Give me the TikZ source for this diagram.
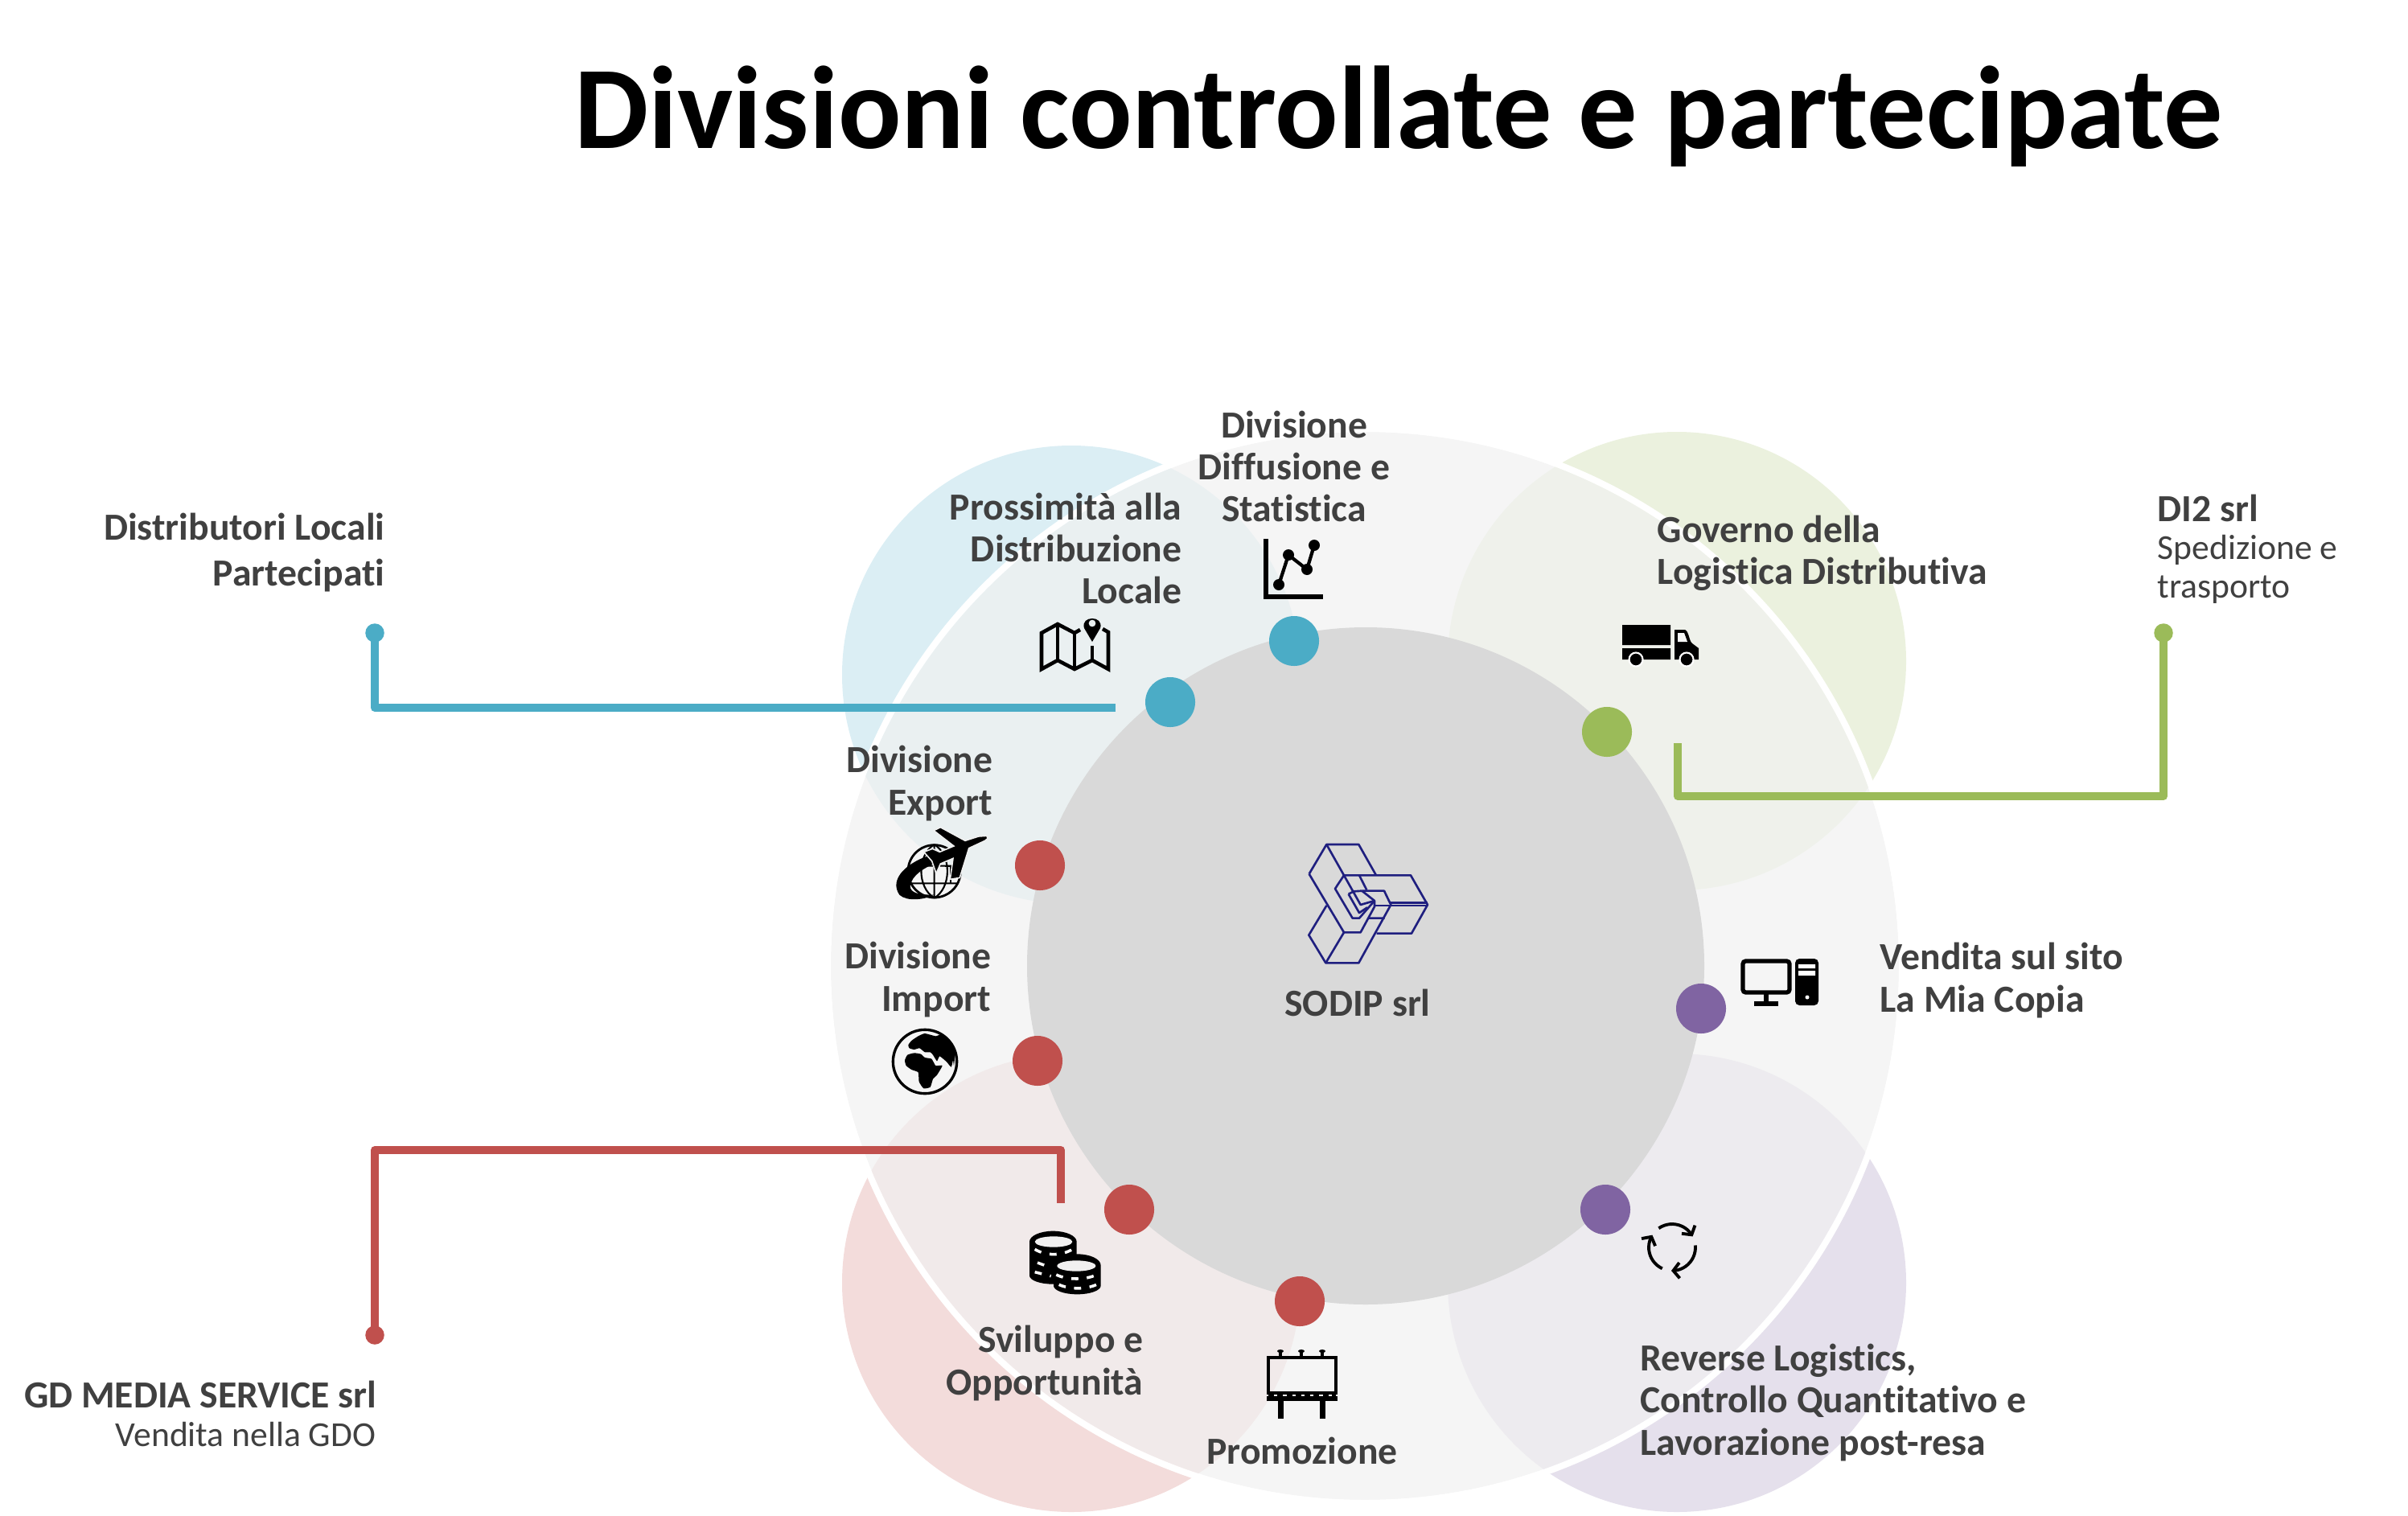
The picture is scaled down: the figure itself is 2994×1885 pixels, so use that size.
\documentclass[tikz,border=0pt]{standalone}
\usepackage{fontspec}
\setmainfont{Carlito}[Ligatures=NoCommon]
\usepackage{tikz}
\usetikzlibrary{arrows.meta}
\definecolor{tealdot}{HTML}{4BACC6}
\definecolor{greendot}{HTML}{9BBB59}
\definecolor{reddot}{HTML}{C0504D}
\definecolor{purpledot}{HTML}{8064A2}
\definecolor{labeltext}{HTML}{404040}
\definecolor{logoblue}{HTML}{1F1F7F}
\tikzset{
  dotnode/.style={circle,inner sep=0pt,minimum size=.62cm},
  enddot/.style={circle,inner sep=0pt,minimum size=.235cm},
  wire/.style={line width=.1cm,line join=round},
  lab/.style={inner sep=0pt,text=labeltext,font=\fontsize{13.55}{14.8}\selectfont\bfseries},
  sublab/.style={inner sep=0pt,text=labeltext,font=\fontsize{12.4}{13.6}\selectfont},
  icon/.style={black,line width=.95pt,line join=miter},
  cycarrow/.style={line width=1.1pt,-{Straight Barb[length=2.2pt,width=5.5pt]}},
}
\begin{document}
\begin{tikzpicture}[x=.01cm,y=-.01cm,>=latex]
\useasboundingbox (0,0) rectangle (2994,1885);
% petals
\fill[tealdot!20] (1332,839) circle (285);
\fill[greendot!20] (2085,822) circle (285);
\fill[reddot!20] (1332,1595) circle (285);
\fill[purpledot!20] (2085,1595) circle (285);
% rings
\path[fill=black!5.5,fill opacity=.7] (1697,1201) circle (664);
\draw[white,line width=.08cm] (1697,1201) circle (668);
\fill[black!15] (1698,1201) circle (421);
\node[font=\fontsize{41.6}{48}\selectfont\bfseries,inner sep=0pt,anchor=base] (title) at (1739,185) {Divisioni controllate e partecipate};
% connectors
\node[enddot,fill=tealdot] (endteal) at (466,787) {};
\node[enddot,fill=greendot] (endgreen) at (2690,787) {};
\node[enddot,fill=reddot] (endred) at (466,1660) {};
\coordinate (fromteal) at (1387,880);
\coordinate (fromgreen) at (2086,924);
\coordinate (fromred) at (1319,1496);
\draw[wire,tealdot] (endteal.center) |- (fromteal);
\draw[wire,greendot] (endgreen.center) |- (fromgreen |- 0,990) -- (fromgreen);
\draw[wire,reddot] (endred.center) |- (fromred |- 0,1430) -- (fromred);
\foreach \nm/\x/\y/\col in {exp/1293/1076/reddot,imp/1290/1319/reddot,svil/1404/1504/reddot,prom/1616/1618/reddot,
  pross/1455/873/tealdot,diff/1609/797/tealdot,gov/1998/910/greendot,sito/2115/1254/purpledot,rev/1996/1504/purpledot} {
  \node[dotnode,fill=\col] (dot\nm) at (\x,\y) {};
}
% labels
\node[lab,align=center] (lbdiff) at (1609,580) {Divisione\\Diffusione e\\Statistica};
\node[lab,align=right,anchor=east] (lbpross) at (1470,682) {Prossimità alla\\Distribuzione\\Locale};
\node[lab,align=right,anchor=east,font=\fontsize{13.55}{16.2}\selectfont\bfseries] (lblocal) at (479,687) {Distributori Locali\\Partecipati};
\node[lab,align=left,anchor=west] (lbgov) at (2060,688) {Governo della\\Logistica Distributiva};
\node[lab,anchor=west] (lbdi) at (2682,632) {DI2 srl};
\node[sublab,align=left,anchor=west] (lbdisub) at (2682,708) {Spedizione e\\trasporto};
\node[lab,align=right,anchor=east] (lbexp) at (1235,974) {Divisione\\Export};
\node[lab,align=right,anchor=east] (lbimp) at (1233,1218) {Divisione\\Import};
\node[lab] (lbsodip) at (1688,1247) {SODIP srl};
\node[lab,align=left,anchor=west] (lbsito) at (2337,1219) {Vendita sul sito\\La Mia Copia};
\node[lab,align=right,anchor=east] (lbsvil) at (1422,1695) {Sviluppo e\\Opportunità};
\node[lab] (lbprom) at (1619,1804) {Promozione};
\node[lab,align=left,anchor=west] (lbrev) at (2039,1744) {Reverse Logistics,\\Controllo Quantitativo e\\Lavorazione post-resa};
\node[lab,anchor=east] (lbgd) at (469,1734) {GD MEDIA SERVICE srl};
\node[sublab,anchor=east] (lbgdsub) at (468,1783) {Vendita nella GDO};
% logo
\begin{scope}[shift={(1610,1040)},scale=.3333,logoblue,line width=.75pt,line join=round]
\draw (53,140) -- (118,30) -- (238,30) -- (303,145);
\draw (118,30) -- (183,145) -- (432,145) -- (495,255) -- (435,362) -- (305,362);
\draw (53,140) -- (183,358) -- (245,358) -- (297,262) -- (297,240) -- (250,203);
\draw (118,258) -- (52,368) -- (115,472) -- (238,472) -- (358,255) -- (333,203) -- (250,203);
\draw (115,472) -- (183,358);
\draw (183,145) -- (150,195) -- (215,305) -- (240,305) -- (297,240);
\draw (297,258) -- (495,258) (358,248) -- (495,248);
\draw (240,145) -- (268,200) (183,145) -- (245,255) -- (297,240);
\draw (200,215) -- (220,205) -- (250,203) (200,215) -- (240,285) -- (270,265) (275,305) -- (335,305);
\end{scope}
% chart
\begin{scope}[icon]
\draw[line width=1.7pt] (1574,670) -- (1574,742) -- (1645,742);
\draw[line width=1.2pt] (1590,727) -- (1602,690) -- (1625,708) -- (1634,678);
\foreach \x/\y in {1590/727,1602/690,1625/708,1634/678} { \fill (\x,\y) circle (7); }
% map
\draw[line width=1.3pt] (1343,783) -- (1336,787) -- (1315,776) -- (1295,787) -- (1295,832) -- (1315,821) -- (1336,832) -- (1358,821) -- (1378,832) -- (1378,786) -- (1371,782);
\draw[line width=1.1pt] (1315,776) -- (1315,821) (1336,787) -- (1336,832) (1358,803) -- (1358,821);
\fill[even odd rule] (1358,798) -- (1348,781) .. controls (1343,765) and (1373,765) .. (1368,781) -- cycle (1358,775) circle (4.5);
% plane and globe
\begin{scope}[shift={(1100,1020)},scale=.3333]
\draw[line width=.8pt] (185,190) circle (98);
\draw[line width=.6pt] (185,90) -- (185,290) (90,170) -- (280,170) (95,235) -- (275,235) (185,90) .. controls (120,130) and (120,250) .. (185,290) (185,90) .. controls (250,130) and (250,250) .. (185,290);
\draw[line width=.6pt] (245,170) -- (245,235) (225,170) -- (262,170);
\fill[black] (185,125) .. controls (80,155) and (15,220) .. (55,278) .. controls (85,305) and (150,295) .. (185,278) .. controls (130,278) and (95,272) .. (95,245) .. controls (100,205) and (150,175) .. (190,160) -- cycle;
\draw[fill=black,draw=black!6,line width=.45pt] (380,58) .. controls (387,65) and (382,74) .. (374,76) -- (314,104) -- (280,214) -- (244,220) -- (255,142) -- (208,162) -- (192,198) -- (176,152) -- (146,118) -- (178,106) -- (205,118) -- (258,96) -- (183,38) -- (208,26) -- (300,76) -- (350,60) -- cycle;
\end{scope}
% globe
\begin{scope}[shift={(1100,1270)},scale=.3333]
\draw[line width=.95pt] (150,150) circle (119);
\fill plot[smooth cycle,tension=.3] coordinates {(88,88) (100,72) (125,55) (150,45) (190,55) (215,48) (250,80) (262,120) (258,165) (255,145) (248,170) (230,150) (205,130) (195,148) (180,125) (170,115) (150,115) (130,100) (110,105) (92,100)};
\fill plot[smooth cycle,tension=.3] coordinates {(75,145) (85,125) (110,118) (135,122) (150,135) (175,140) (190,165) (215,165) (195,200) (180,215) (170,245) (145,250) (128,225) (125,190) (100,180) (80,165)};
\end{scope}
% coins
\begin{scope}[shift={(1270,1520)},scale=.3333]
\fill (30,72) -- (30,198) arc (180:0:88 and 32) -- (206,72) arc (0:-180:88 and 40) -- cycle;
\fill (120,160) -- (120,236) arc (180:0:88 and 32) -- (296,160) arc (0:-180:88 and 42) -- cycle;
\fill[reddot!8!black!6] (120,72) ellipse (70 and 20) (205,162) ellipse (72 and 20);
\draw[white,line width=1pt,dash pattern=on 2.5pt off 3pt] (50,100) .. controls (90,125) and (150,125) .. (190,100);
\draw[white,line width=1pt,dash pattern=on 2.5pt off 3pt] (50,185) -- (110,200) (60,150) -- (100,165);
\draw[white,line width=1pt,dash pattern=on 2.5pt off 3pt] (130,195) .. controls (170,215) and (240,215) .. (280,195);
\draw[white,line width=1pt,dash pattern=on 2.5pt off 3pt] (140,232) .. controls (180,250) and (240,250) .. (280,232);
\end{scope}
% billboard
\draw[line width=1.2pt,fill=none] (1577,1688) rectangle (1661,1732);
\draw[line width=1.5pt] (1575,1739) -- (1663,1739);
\draw[line width=.9pt,dash pattern=on 2pt off 1.2pt] (1577,1735) -- (1661,1735);
\draw[line width=2pt] (1592,1739) -- (1592,1764) (1644,1739) -- (1644,1764);
\foreach \x in {1592,1618,1644} { \draw[line width=1pt] (\x,1681) -- (\x,1688); \fill (\x,1680) ellipse (4 and 2); }
% reverse arrows
\foreach \a in {-125,-5,115} {
  \draw[cycarrow] plot[domain=\a:\a+97,samples=14] ({2079+29*cos(\x)},{1551+29*sin(\x)});
}
% truck
\fill (2017,777) rectangle (2077,802) (2017,806) rectangle (2077,820);
\fill (2082,783) -- (2095,783) .. controls (2100,785) and (2100,797) .. (2104,800) -- (2112,806) -- (2112,820) -- (2082,820) -- cycle;
\fill[greendot!10!black!4] (2086,787) -- (2094,787) -- (2098,798) -- (2086,798) -- cycle;
\draw[draw=white,line width=.6pt,fill=black] (2034,820) circle (8.5) (2097,820) circle (8.5);
% computer
\draw[line width=1.5pt,rounded corners=1pt] (2167,1195) rectangle (2225,1234);
\draw[line width=1.7pt] (2196,1236) -- (2196,1246) (2181,1248) -- (2211,1248);
\fill[rounded corners=1.5pt] (2232,1192) rectangle (2261,1250);
\fill[white] (2236,1199) rectangle (2257,1204) (2236,1207) rectangle (2257,1213) (2247,1240) circle (2.5);
\end{scope}
\end{tikzpicture}
\end{document}
